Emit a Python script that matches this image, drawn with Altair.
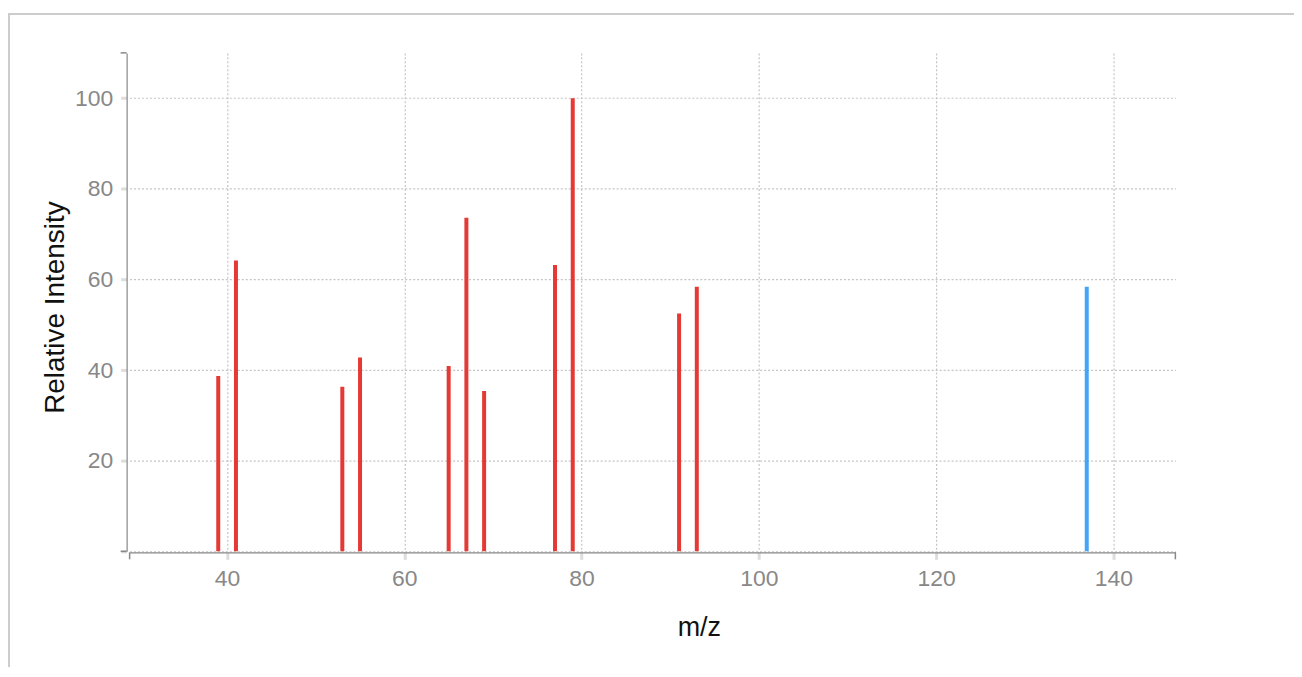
import altair as alt
import pandas as pd

# Peak data (m/z, relative intensity)
mz = [39, 41, 53, 55, 65, 67, 69, 77, 79, 91, 93, 137]
intensity = [38.7, 64.2, 36.3, 42.8, 40.9, 73.6, 35.4, 63.2, 100.0, 52.5, 58.4, 58.4]
peak_type = ["fragment"] * 11 + ["molecular"]

x_ticks = [40, 60, 80, 100, 120, 140]
y_ticks = [0, 20, 40, 60, 80, 100]
x_domain = [29, 147]
y_domain = [0, 110]

FONT = "Liberation Sans"
LABEL_GREY = "#888888"
DOMAIN_GREY = "#888888"

df = pd.DataFrame({"mz": mz, "intensity": intensity, "type": peak_type})

xscale = alt.Scale(domain=x_domain, nice=False, zero=False)
yscale = alt.Scale(domain=y_domain, nice=False)

common_axis = dict(
    grid=True,
    gridDash=[2, 2],
    gridColor="#c4c4c4",
    gridWidth=1.2,
    domainColor=DOMAIN_GREY,
    domainWidth=1.2,
    tickColor="#dddddd",
    tickWidth=3,
    labelFont=FONT,
    labelFontSize=23,
    labelColor=LABEL_GREY,
    titleFont=FONT,
    titleFontWeight="normal",
    titleColor="#111111",
)

bars = alt.Chart(df).mark_rule(strokeWidth=4).encode(
    x=alt.X(
        "mz:Q",
        scale=xscale,
        axis=alt.Axis(
            values=x_ticks,
            title="m/z",
            titleFontSize=27,
            tickSize=7,
            labelPadding=8,
            offset=1,
            titleX=571,
            titleY=83,
            titleAlign="center",
            titleBaseline="alphabetic",
            **common_axis,
        ),
    ),
    y=alt.Y(
        "intensity:Q",
        scale=yscale,
        axis=alt.Axis(
            values=y_ticks,
            title="Relative Intensity",
            titleFontSize=28,
            tickSize=6,
            labelPadding=8,
            offset=3,
            labelExpr="datum.value == 0 ? '' : datum.label",
            titleX=-63,
            titleY=255,
            titleAngle=-90,
            titleAlign="center",
            titleBaseline="alphabetic",
            **common_axis,
        ),
    ),
    y2=alt.datum(0),
    color=alt.Color(
        "type:N",
        scale=alt.Scale(domain=["fragment", "molecular"], range=["#E53935", "#42A5F5"]),
        legend=None,
    ),
)

# outer end ticks of the axes
xcaps = alt.Chart(pd.DataFrame({"v": x_domain})).mark_rule(color=DOMAIN_GREY, strokeWidth=1.5).encode(
    x=alt.X("v:Q", scale=xscale),
    y=alt.value(501),
    y2=alt.value(508),
)
ycaps = alt.Chart(pd.DataFrame({"v": y_domain})).mark_rule(color=DOMAIN_GREY, strokeWidth=1.5).encode(
    y=alt.Y("v:Q", scale=yscale),
    x=alt.value(-9),
    x2=alt.value(-3),
)

# light frame around the figure
frame = alt.Chart(pd.DataFrame({"a": [0]})).mark_rect(
    fillOpacity=0, stroke="#cccccc", strokeWidth=2
).encode(
    x=alt.value(-121), x2=alt.value(2000), y=alt.value(-39), y2=alt.value(2000)
)

chart = (
    alt.layer(frame, bars, xcaps, ycaps)
    .properties(
        width=1049,
        height=500,
        autosize=alt.AutoSizeParams(type="none"),
        padding={"left": 122, "top": 44, "right": 119, "bottom": 115},
    )
    .configure_view(stroke=None)
)

chart.save("out.html", embed_options={"renderer": "svg", "actions": False})
